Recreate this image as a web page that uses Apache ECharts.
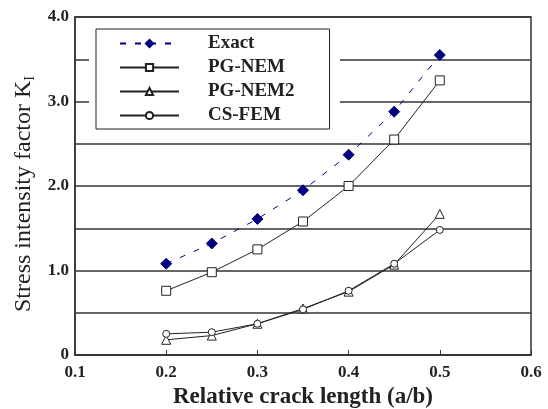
<!DOCTYPE html>
<html lang="en">
<head>
    <meta charset="UTF-8">
    <title>Stress intensity factor</title>
    <script src="https://cdn.jsdelivr.net/npm/echarts/dist/echarts.min.js"></script>
    <style>
        html, body {
            margin: 0;
            padding: 0;
            background-color: #ffffff;
        }
        #chart {
            width: 548px;
            height: 409px;
        }
    </style>
</head>
<body>
    <div id="chart"></div>
    <script>
        // crack length a/b
        var crackLength = [0.2, 0.25, 0.3, 0.35, 0.4, 0.45, 0.5];
        var exact   = [1.08, 1.32, 1.61, 1.95, 2.37, 2.88, 3.55];
        var pgNem   = [0.76, 0.98, 1.25, 1.58, 2.00, 2.55, 3.25];
        var pgNem2  = [0.18, 0.23, 0.37, 0.55, 0.75, 1.07, 1.67];
        var csFem   = [0.25, 0.27, 0.37, 0.54, 0.76, 1.08, 1.48];

        var font = '"Liberation Serif", "DejaVu Serif", serif';

        function pairs(vals) {
            return crackLength.map(function (x, i) { return [x, vals[i]]; });
        }

        function lineSeries(name, vals, symbol, size, fill, lineColor, dashed) {
            return {
                name: name,
                type: 'line',
                data: pairs(vals),
                symbol: symbol,
                symbolSize: size,
                showAllSymbol: true,
                lineStyle: { color: lineColor, width: 1, type: dashed ? [6, 9] : 'solid' },
                itemStyle: { color: fill, borderColor: lineColor, borderWidth: 1 },
                emphasis: { disabled: true },
                z: 5
            };
        }

        var chart = echarts.init(document.getElementById('chart'));
        chart.setOption({
            animation: false,
            grid: {
                left: 75, right: 17, top: 17, bottom: 54,
                outerBoundsMode: 'none',
                show: true, borderColor: '#333', borderWidth: 1.5
            },
            graphic: [{
                type: 'rect',
                shape: { x: 89, y: 22, width: 251, height: 109 },
                style: { fill: '#fff' },
                z: 3
            }],
            legend: {
                orient: 'vertical',
                left: 96, top: 29,
                padding: [5, 35, 4, 23],
                itemWidth: 59,
                itemHeight: 9,
                itemGap: 5,
                backgroundColor: '#fff',
                borderColor: '#222',
                borderWidth: 1,
                borderRadius: 0,
                z: 6,
                textStyle: {
                    fontFamily: font, fontWeight: 'bold', fontSize: 19,
                    color: '#222', lineHeight: 18, padding: [0, 0, 0, 24]
                },
                data: ['Exact', 'PG-NEM', 'PG-NEM2', 'CS-FEM']
            },
            xAxis: {
                type: 'value',
                min: 0.1, max: 0.6, interval: 0.1,
                name: 'Relative crack length (a/b)',
                nameLocation: 'middle',
                nameGap: 31,
                nameTextStyle: { fontFamily: font, fontWeight: 'bold', fontSize: 23, color: '#222' },
                axisLine: { lineStyle: { color: '#333', width: 1.5 } },
                axisTick: { inside: true, length: 5, lineStyle: { color: '#333' } },
                axisLabel: {
                    fontFamily: font, fontWeight: 'bold', fontSize: 17, color: '#222', margin: 9,
                    formatter: function (v) { return v.toFixed(1); }
                },
                splitLine: { show: false }
            },
            yAxis: {
                type: 'value',
                min: 0, max: 4, interval: 0.5,
                name: '{a|Stress intensity factor K}{b|I}',
                nameLocation: 'middle',
                nameGap: 37,
                nameTextStyle: {
                    padding: [0, 16, 0, 0],
                    rich: {
                        a: { fontFamily: font, fontSize: 24, color: '#222', lineHeight: 27 },
                        b: { fontFamily: font, fontSize: 14, color: '#222', verticalAlign: 'bottom', lineHeight: 20 }
                    }
                },
                axisLine: { show: true, lineStyle: { color: '#333', width: 1.5 } },
                axisTick: { show: false },
                axisLabel: {
                    fontFamily: font, fontWeight: 'bold', fontSize: 17, color: '#222', margin: 6,
                    formatter: function (v) {
                        if (v % 1 !== 0) return '';
                        return v === 0 ? '0' : v.toFixed(1);
                    }
                },
                splitLine: { show: true, lineStyle: { color: '#333', width: 1.5 } }
            },
            series: [
                lineSeries('Exact', exact, 'diamond', 11, '#000080', '#000080', true),
                lineSeries('PG-NEM', pgNem, 'rect', 9, '#fff', '#222', false),
                lineSeries('PG-NEM2', pgNem2, 'triangle', 9, '#fff', '#222', false),
                lineSeries('CS-FEM', csFem, 'circle', 7, '#fff', '#222', false)
            ]
        });
    </script>
</body>
</html>
